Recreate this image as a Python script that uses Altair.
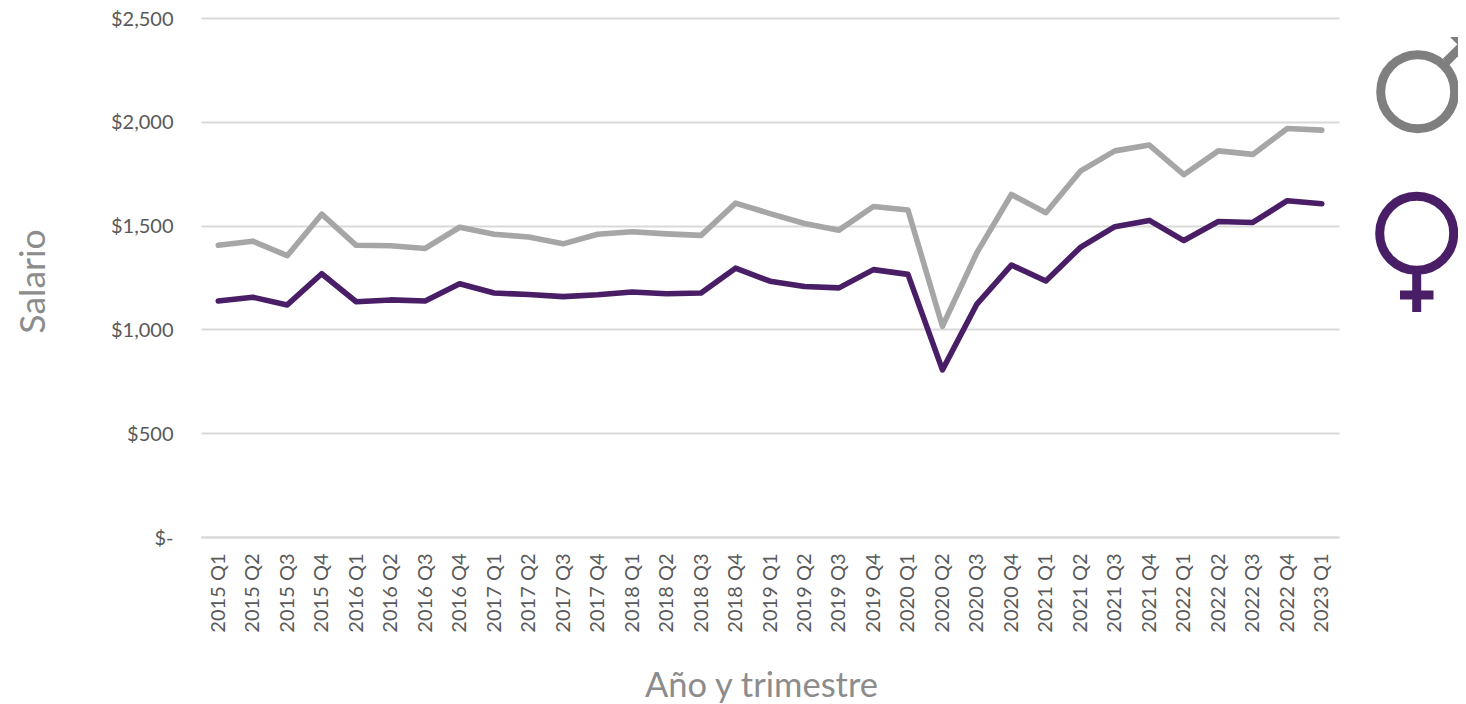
import altair as alt
import pandas as pd

trimestres = [f"{y} Q{q}" for y in range(2015, 2023) for q in range(1, 5)] + ["2023 Q1"]
hombres = [1405, 1425, 1355, 1555, 1405, 1403, 1390, 1492, 1458, 1445, 1412, 1458,
           1470, 1460, 1453, 1608, 1558, 1510, 1478, 1592, 1575, 1015, 1370, 1650,
           1562, 1762, 1860, 1888, 1745, 1860, 1843, 1968, 1960]
mujeres = [1137, 1155, 1118, 1268, 1133, 1142, 1137, 1220, 1175, 1168, 1158, 1167,
           1180, 1172, 1175, 1295, 1232, 1207, 1200, 1288, 1265, 805, 1122, 1310,
           1233, 1395, 1495, 1525, 1428, 1520, 1515, 1620, 1605]

GRAY = "#A6A6A6"
PURPLE = "#491E67"
SYM_GRAY = "#7F7F7F"
FONT = "Lato"

df = pd.DataFrame({
    "t": trimestres * 2,
    "v": hombres + mujeres,
    "s": ["Hombres"] * len(trimestres) + ["Mujeres"] * len(trimestres),
})

lines = alt.Chart(df).mark_line(strokeWidth=5.6, strokeCap="round", strokeJoin="round").encode(
    x=alt.X("t:N", sort=trimestres, scale=alt.Scale(type="point", padding=0.5),
            axis=alt.Axis(title="Año y trimestre", labelAngle=270, labelAlign="right", labelBaseline="middle",
                          labelFont=FONT, labelFontSize=20, labelColor="#595959", labelPadding=16,
                          ticks=False, grid=False, domainColor="#D9D9D9", domainWidth=2,
                          titleFont=FONT, titleFontSize=34.5, titleFontWeight="normal", titleColor="#8C8C8C",
                          titleX=560, titleY=159, titleBaseline="alphabetic", labelOverlap=False)),
    y=alt.Y("v:Q", scale=alt.Scale(domain=[0, 2500]),
            axis=alt.Axis(title="Salario", values=[0, 500, 1000, 1500, 2000, 2500],
                          labelExpr="datum.value === 0 ? '$-' : format(datum.value, '$,')",
                          labelFont=FONT, labelFontSize=20, labelOffset=1, labelColor="#595959", labelPadding=28,
                          ticks=False, domain=False, gridColor="#D9D9D9", gridWidth=2,
                          titleFont=FONT, titleFontSize=35.5, titleFontWeight="normal", titleColor="#8C8C8C",
                          titleAngle=270, titleX=-157, titleY=263, titleBaseline="alphabetic")),
    color=alt.Color("s:N", scale=alt.Scale(domain=["Hombres", "Mujeres"], range=[GRAY, PURPLE]), legend=None),
)

ox, oy = 201, 18
def ring(cx, cy, color):
    return alt.Chart(pd.DataFrame({"a": [0]})).mark_point(
        shape="circle", filled=False, size=5476, strokeWidth=9, color=color, opacity=1
    ).encode(x=alt.value(cx - ox), y=alt.value(cy - oy))

def bar(x1, y1, x2, y2, color):
    return alt.Chart(pd.DataFrame({"a": [0]})).mark_rule(strokeWidth=9, color=color).encode(
        x=alt.value(x1 - ox), y=alt.value(y1 - oy), x2=alt.value(x2 - ox), y2=alt.value(y2 - oy))

head = alt.Chart(pd.DataFrame({"a": [0]})).mark_point(
    shape="M -1 -1 L 1 -1 L 1 1 Z", filled=True, size=676, color=SYM_GRAY, opacity=1, strokeWidth=0
).encode(x=alt.value(1463 - ox), y=alt.value(50 - oy))

chart = alt.layer(
    lines,
    ring(1417.7, 91.7, SYM_GRAY),
    bar(1446, 62, 1468, 40, SYM_GRAY),
    head,
    ring(1416.7, 233.3, PURPLE),
    bar(1416.7, 274, 1416.7, 312, PURPLE),
    bar(1400, 295, 1433.5, 295, PURPLE),
).properties(
    width=1138, height=519,
    autosize=alt.AutoSizeParams(type="none"),
    padding={"left": 193, "top": 10, "right": 119, "bottom": 167},
).configure_view(stroke=None)

chart.save("out.html", embed_options={"renderer": "svg", "actions": False})
